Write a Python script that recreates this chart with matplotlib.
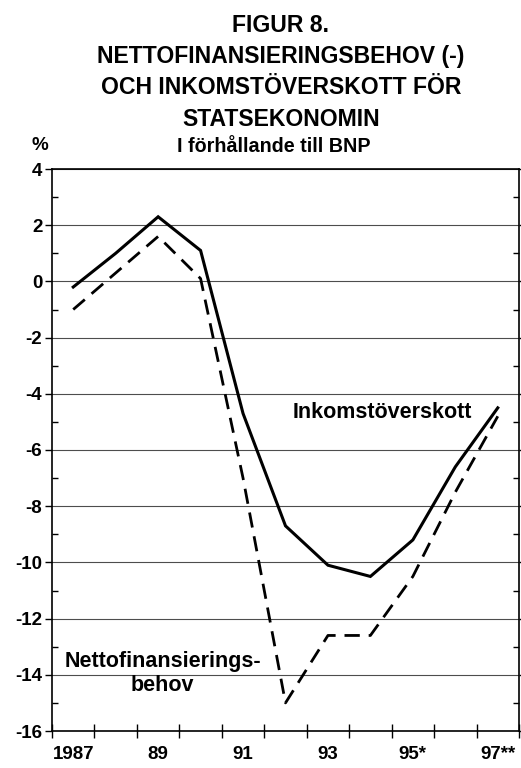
import numpy as np
import matplotlib
matplotlib.use("Agg")
import matplotlib.pyplot as plt
from matplotlib.ticker import MultipleLocator

plt.rcParams['font.family'] = ['Liberation Sans', 'DejaVu Sans']
plt.rcParams['font.weight'] = 'bold'
plt.rcParams['axes.unicode_minus'] = False

# data (% of BNP)
years = ["1987", "1988", "1989", "1990", "1991", "1992",
         "1993", "1994", "1995", "1996", "1997"]
tick_labels = ["1987", "89", "91", "93", "95*", "97**"]
inkomst = [-0.2, 1.0, 2.3, 1.1, -4.7, -8.7, -10.1, -10.5, -9.2, -6.6, -4.5]
netto = [-1.0, 0.3, 1.6, 0.1, -7.0, -15.0, -12.6, -12.6, -10.5, -7.5, -4.8]

x = np.arange(len(years))

fig = plt.figure(figsize=(5.21, 7.68), dpi=100)
ax = fig.add_axes([52/521, 1 - 731/768, (519 - 52)/521, (731 - 169)/768])

ax.plot(x, inkomst, color="black", lw=2.2, solid_joinstyle="miter")
ax.plot(x, netto, color="black", lw=2.0, dashes=(5.5, 3.2))

ax.set_xlim(-0.5, len(years) - 0.5)
ax.set_ylim(-16, 4)

# y axis
ax.yaxis.set_major_locator(MultipleLocator(2))
ax.yaxis.set_minor_locator(MultipleLocator(1))
ax.tick_params(axis="y", which="major", direction="out", length=5, width=1,
               labelsize=13.5, pad=2, right=True)
ax.tick_params(axis="y", which="minor", direction="in", length=4, width=1,
               right=True)
ax.grid(axis="y", which="major", color="0.3", lw=0.8)

# x axis: ticks between years, labels every second year
ax.set_xticks(np.arange(-0.5, len(years), 1))
ax.set_xticklabels([])
ax.tick_params(axis="x", which="major", direction="inout", length=10, width=1)
ax.set_xticks(x[::2], minor=True)
ax.set_xticklabels(tick_labels, minor=True)
ax.tick_params(axis="x", which="minor", length=0, labelsize=13.5, pad=11)

for s in ax.spines.values():
    s.set_linewidth(1.2)

ax.text(7.27, -4.67, "Inkomstöverskott", fontsize=15.5, ha="center", va="center")
ax.text(2.11, -13.96, "Nettofinansierings-\nbehov", fontsize=15.5,
        ha="center", va="center", linespacing=1.15)

# titles
title_lines = ["FIGUR 8.", "NETTOFINANSIERINGSBEHOV (-)",
               "OCH INKOMSTÖVERSKOTT FÖR", "STATSEKONOMIN"]
title_y = [25, 57, 88, 119]
for t, yp in zip(title_lines, title_y):
    fig.text(281/521, 1 - yp/768, t, fontsize=16.6, ha="center", va="center")
fig.text(274/521, 1 - 146/768, "I förhållande till BNP", fontsize=14.2,
         ha="center", va="center")
fig.text(40/521, 1 - 146/768, "%", fontsize=13.5, ha="center", va="center")

fig.savefig("out.png", dpi=100)
